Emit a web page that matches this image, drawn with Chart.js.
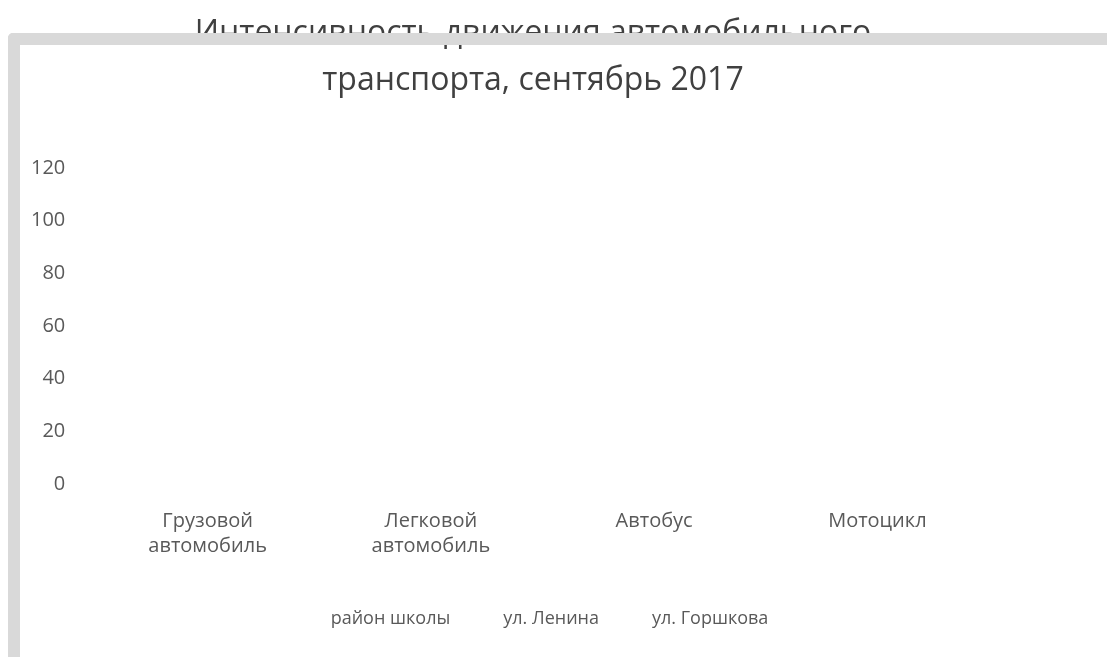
<!DOCTYPE html>
<html lang="ru">
<head>
<meta charset="utf-8">
<title>Интенсивность движения автомобильного транспорта</title>
<script src="https://cdn.jsdelivr.net/npm/chart.js@4/dist/chart.umd.min.js"></script>
<style>
    html, body { margin: 0; padding: 0; background: #fff; overflow: hidden; }
    #wrap { position: relative; width: 1107px; height: 657px; }
    #frame {
        position: absolute; left: 8px; top: 33px; right: -20px; bottom: -20px;
        border-top: 12px solid #d9d9d9; border-left: 12px solid #d9d9d9;
        border-top-left-radius: 5px; pointer-events: none;
    }
</style>
</head>
<body>
<div id="wrap">
    <canvas id="chart" width="1107" height="657"></canvas>
    <div id="frame"></div>
</div>
<script>
"use strict";

const categories = [['Грузовой', 'автомобиль'], ['Легковой', 'автомобиль'], 'Автобус', 'Мотоцикл'];
const seriesNames = ['район школы', 'ул. Ленина', 'ул. Горшкова'];
// no bars are visible in the picture, so every value reads as zero
const schoolArea = [0, 0, 0, 0];
const leninaSt = [0, 0, 0, 0];
const gorshkovaSt = [0, 0, 0, 0];
const yTicks = [0, 20, 40, 60, 80, 100, 120];

const TEXT = '#595959';
const FONT = "'Open Sans', sans-serif";
const NONE = 'rgba(0,0,0,0)';

// create configuration
let config = {
    type: 'bar',
    data: {
        labels: categories,
        datasets: [
            { label: seriesNames[0], data: schoolArea, backgroundColor: NONE },
            { label: seriesNames[1], data: leninaSt, backgroundColor: NONE },
            { label: seriesNames[2], data: gorshkovaSt, backgroundColor: NONE }
        ]
    },
    options: {
        responsive: false,
        animation: false,
        layout: { padding: { left: 77, right: 118, top: 0, bottom: 19 } },
        plugins: {
            tooltip: { enabled: false },
            title: {
                display: true,
                text: ['Интенсивность движения автомобильного', 'транспорта, сентябрь 2017'],
                color: '#404040',
                font: { family: FONT, size: 32, weight: 'normal', lineHeight: 1.484 },
                padding: { top: 10, bottom: 63 }
            },
            legend: {
                position: 'bottom',
                labels: {
                    color: TEXT,
                    font: { family: FONT, size: 18 },
                    boxWidth: 24,
                    boxHeight: 0,
                    padding: 20
                }
            }
        },
        scales: {
            y: {
                min: 0,
                max: 120,
                afterBuildTicks: (axis) => { axis.ticks = yTicks.map((v) => ({ value: v })); },
                afterFit: (axis) => { axis.width = 19; },
                grid: { display: false },
                border: { display: false },
                // mirrored + far keeps the labels right-aligned outside the narrow axis box
                ticks: { color: TEXT, font: { family: FONT, size: 20 }, mirror: true, crossAlign: 'far', padding: -65 }
            },
            x: {
                afterFit: (axis) => { axis.height = 106; },
                grid: { display: false },
                border: { display: false },
                ticks: { color: TEXT, font: { family: FONT, size: 20, lineHeight: 1.25 }, padding: 17, maxRotation: 0 }
            }
        }
    }
};

// create chart
new Chart(document.getElementById('chart'), config);
</script>
</body>
</html>
